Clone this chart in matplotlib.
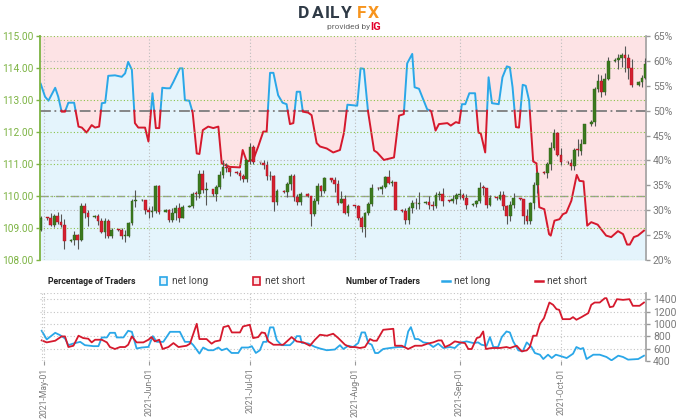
import matplotlib
matplotlib.use("Agg")
import matplotlib.pyplot as plt
import matplotlib.dates as mdates
from matplotlib.patches import Rectangle
from matplotlib.lines import Line2D
import numpy as np
import pandas as pd

plt.rcParams['font.family'] = ['Roboto', 'DejaVu Sans']

# ---- USD/JPY daily candles (Sundays included, Saturdays skipped) ----
first_open = 108.93
closes = [109.31,
          109.30, 109.08, 109.36, 109.19, 109.08, 108.58,
          108.62, 108.79, 108.62, 109.69, 109.48, 109.35,
          109.37, 109.21, 108.89, 109.23, 108.75, 108.95,
          108.93, 108.76, 108.76, 109.16, 109.84, 109.86,
          109.87, 109.56, 109.50, 109.52, 110.30, 109.51,
          109.55, 109.24, 109.48, 109.63, 109.31, 109.67,
          109.70, 110.07, 110.06, 110.70, 110.20, 110.22,
          110.05, 110.27, 110.65, 110.92, 110.88, 110.76,
          110.72, 110.62, 110.52, 111.11, 111.53, 111.05,
          111.03, 110.96, 110.62, 110.63, 109.81, 110.15,
          110.12, 110.36, 110.62, 109.97, 109.82, 110.07,
          110.00, 109.45, 109.85, 110.30, 110.15, 110.56,
          110.50, 110.38, 109.79, 109.91, 109.47, 109.70,
          109.68, 109.30, 109.04, 109.48, 109.76, 110.24,
          110.22, 110.28, 110.59, 110.41, 110.43, 109.57,
          109.53, 109.24, 109.61, 109.77, 109.75, 109.79,
          109.80, 109.71, 109.68, 110.04, 110.07, 109.84,
          109.83, 109.92, 110.03, 110.03, 109.93, 109.71,
          109.75, 109.84, 110.26, 110.25, 109.71, 109.94,
          109.92, 110.02, 109.68, 109.38, 109.71, 109.93,
          109.90, 109.39, 109.22, 109.78, 110.34, 110.73,
          110.72, 111.00, 111.49, 111.98, 111.29, 111.05,
          111.03, 110.93, 111.44, 111.42, 111.62, 112.24,
          112.30, 113.35, 113.59, 113.25, 113.67, 114.21,
          114.25, 114.32, 114.40, 114.30, 114.00, 113.46,
          113.55, 113.70, 114.13]
highs = [109.36,
         109.35, 109.47, 109.43, 109.51, 109.45, 109.28,
         108.66, 108.90, 108.82, 109.77, 109.79, 109.55,
         109.40, 109.44, 109.30, 109.32, 109.27, 109.00,
         108.97, 108.99, 108.95, 109.20, 109.91, 110.20,
         109.90, 109.88, 109.67, 109.70, 110.33, 110.33,
         109.58, 109.58, 109.61, 109.72, 109.79, 109.71,
         109.73, 110.14, 110.16, 110.82, 110.82, 110.44,
         110.10, 110.35, 110.79, 111.11, 111.04, 110.86,
         110.78, 110.80, 110.70, 111.12, 111.66, 111.58,
         111.06, 111.14, 111.08, 110.79, 110.65, 110.23,
         110.18, 110.44, 110.69, 110.70, 110.05, 110.13,
         110.08, 110.00, 109.95, 110.42, 110.35, 110.60,
         110.56, 110.59, 110.50, 110.15, 110.02, 109.76,
         109.72, 109.72, 109.38, 109.51, 109.80, 110.37,
         110.27, 110.35, 110.63, 110.80, 110.49, 110.45,
         109.58, 109.62, 109.68, 109.86, 109.94, 110.13,
         109.84, 110.00, 109.85, 110.12, 110.15, 110.25,
         109.87, 110.04, 110.10, 110.22, 110.10, 110.05,
         109.78, 109.89, 110.45, 110.33, 110.16, 110.04,
         109.96, 110.15, 110.16, 109.72, 109.84, 110.08,
         109.95, 109.90, 109.58, 109.82, 110.45, 110.79,
         110.77, 111.06, 111.68, 112.08, 112.00, 111.50,
         111.08, 111.15, 111.51, 111.79, 111.78, 112.24,
         112.36, 113.41, 113.80, 113.79, 113.84, 114.33,
         114.30, 114.45, 114.47, 114.69, 114.45, 114.27,
         113.60, 113.77, 114.30]
lows = [108.91,
        109.25, 109.05, 109.02, 109.11, 109.03, 108.34,
        108.55, 108.48, 108.34, 108.58, 109.32, 109.06,
        109.32, 109.08, 108.85, 108.70, 108.70, 108.68,
        108.90, 108.66, 108.56, 108.72, 109.09, 109.65,
        109.83, 109.45, 109.30, 109.34, 109.48, 109.43,
        109.50, 109.19, 109.20, 109.24, 109.18, 109.31,
        109.65, 109.64, 109.88, 109.95, 110.10, 109.72,
        110.00, 109.83, 110.22, 110.56, 110.75, 110.64,
        110.70, 110.50, 110.43, 110.45, 111.00, 110.99,
        111.00, 110.85, 110.50, 110.51, 109.53, 109.72,
        110.10, 109.98, 110.18, 109.85, 109.72, 109.72,
        109.97, 109.06, 109.36, 109.74, 110.00, 110.10,
        110.45, 110.12, 109.73, 109.78, 109.44, 109.37,
        109.64, 109.25, 108.88, 108.72, 109.41, 109.70,
        110.18, 110.07, 110.24, 110.36, 110.30, 109.55,
        109.50, 109.12, 109.11, 109.46, 109.60, 109.60,
        109.76, 109.60, 109.55, 109.62, 109.87, 109.70,
        109.80, 109.77, 109.74, 109.92, 109.88, 109.58,
        109.70, 109.65, 109.78, 110.04, 109.61, 109.69,
        109.89, 109.86, 109.55, 109.12, 109.23, 109.64,
        109.87, 109.11, 109.12, 109.12, 109.60, 110.10,
        110.68, 110.57, 110.82, 111.45, 111.25, 110.97,
        111.00, 110.82, 110.81, 111.25, 111.28, 111.65,
        112.20, 112.20, 113.24, 113.09, 113.17, 113.62,
        114.18, 113.97, 114.04, 113.87, 113.67, 113.41,
        113.45, 113.42, 113.67]

# ---- % of traders net long (days after 2021-05-01) ----
sent_day = [-1.0, 0.3, 1.3, 3.3, 4.2, 5.2, 6.2, 7.2, 8.9, 10.2,
            11.2, 12.6, 14.1, 15.1, 16.3, 17.1, 18.1, 19.0, 21.0, 23.0,
            24.0, 24.9, 26.0, 26.9, 27.9, 29.9, 30.9, 32.1, 33.1, 34.1,
            35.0, 36.3, 37.3, 38.3, 40.2, 41.0, 41.7, 43.0, 44.0, 45.2,
            46.0, 47.0, 48.6, 50.1, 51.6, 52.6, 55.0, 58.0, 58.8, 60.0,
            61.9, 63.4, 64.9, 65.9, 66.9, 67.9, 69.3, 70.6, 71.8, 72.8,
            73.8, 74.8, 75.8, 76.6, 78.2, 79.2, 80.7, 81.7, 83.7, 85.6,
            87.6, 88.8, 89.8, 92.7, 93.7, 94.7, 95.9, 97.7, 98.6, 100.6,
            103.6, 105.1, 106.5, 107.5, 109.0, 109.7, 111.0, 113.4, 114.6, 115.9,
            116.9, 119.4, 120.4, 121.9, 122.9, 123.7, 124.7, 125.9, 127.6, 128.6,
            129.3, 130.6, 131.6, 132.6, 134.6, 135.7, 137.0, 137.9, 138.7, 139.7,
            140.6, 141.7, 142.6, 143.6, 144.8, 145.8, 146.6, 148.1, 149.5, 150.0,
            151.1, 152.6, 153.6, 154.6, 156.1, 157.7, 158.5, 159.7, 160.8, 162.0,
            163.9, 164.9, 166.4, 167.9, 169.9, 171.4, 172.6, 173.4, 174.6, 175.8,
            177.6]
sent_pct = [55.4, 52.8, 52.0, 54.6, 52.8, 49.8, 49.8, 51.6, 51.6, 46.8,
            46.6, 45.6, 47.1, 46.6, 46.8, 51.5, 51.6, 57.0, 57.1, 56.8,
            57.5, 59.8, 58.2, 47.5, 46.6, 46.6, 43.8, 53.5, 46.5, 46.5,
            54.6, 54.5, 54.5, 55.8, 58.5, 58.5, 52.1, 52.0, 49.6, 41.4,
            41.3, 46.1, 46.8, 46.5, 46.8, 39.4, 38.7, 38.6, 42.1, 39.8,
            40.1, 42.8, 45.8, 45.8, 57.6, 57.6, 53.1, 51.6, 51.3, 47.3,
            47.5, 53.8, 53.8, 49.8, 49.6, 49.1, 43.5, 42.8, 42.4, 41.6,
            42.1, 45.6, 51.2, 51.0, 58.5, 58.4, 49.9, 42.0, 41.6, 40.1,
            40.6, 49.0, 49.3, 59.5, 61.4, 54.7, 54.4, 50.3, 49.9, 46.0,
            47.3, 47.5, 47.0, 47.7, 47.5, 51.3, 51.3, 53.5, 53.5, 45.6,
            45.4, 41.6, 56.7, 51.5, 51.3, 56.7, 58.9, 58.7, 54.7, 46.7,
            46.6, 55.2, 55.0, 52.0, 39.8, 39.4, 30.6, 30.2, 25.2, 24.9,
            27.9, 28.2, 29.2, 29.5, 31.9, 37.1, 35.9, 35.8, 26.9, 27.6,
            27.1, 26.2, 24.9, 24.6, 25.8, 25.2, 23.1, 23.1, 24.6, 24.9,
            25.9]

# ---- number of traders ----
long_day = [-0.7, 0.8, 3.3, 4.7, 6.2, 7.2, 8.7, 10.7, 12.1, 14.6,
            16.1, 17.1, 18.6, 19.5, 21.0, 21.5, 23.5, 24.9, 26.0, 27.4,
            28.9, 30.9, 32.2, 33.4, 35.3, 37.3, 40.2, 41.7, 43.2, 44.2,
            46.0, 47.1, 48.6, 50.1, 51.6, 52.6, 54.1, 55.5, 57.5, 58.5,
            60.5, 61.5, 62.7, 63.9, 64.9, 65.9, 66.9, 67.9, 68.9, 70.3,
            72.8, 73.8, 74.8, 75.8, 76.3, 78.2, 80.2, 81.7, 83.7, 86.1,
            87.6, 88.6, 90.1, 91.5, 93.0, 94.0, 95.0, 96.0, 97.0, 98.0,
            98.9, 100.4, 102.4, 104.9, 106.8, 107.8, 108.6, 109.8, 110.8, 112.3,
            113.7, 115.2, 116.7, 118.2, 120.2, 121.6, 122.6, 123.6, 125.1, 127.1,
            128.5, 129.5, 131.0, 132.0, 133.0, 134.4, 135.5, 136.9, 137.9, 138.9,
            140.4, 141.7, 142.9, 144.3, 145.3, 146.8, 147.8, 149.2, 150.3, 151.5,
            153.2, 154.7, 156.6, 157.6, 158.8, 159.6, 160.6, 162.6, 164.5, 166.5,
            168.0, 170.0, 171.4, 172.9, 175.9, 177.6]
long_cnt = [889, 749, 856, 819, 765, 656, 683, 710, 656, 640,
            640, 781, 781, 856, 856, 781, 781, 889, 872, 602,
            618, 628, 802, 710, 710, 872, 872, 710, 710, 656,
            520, 618, 574, 574, 618, 574, 602, 530, 530, 618,
            618, 640, 530, 574, 710, 710, 944, 944, 737, 656,
            656, 710, 802, 802, 693, 683, 628, 602, 574, 586,
            656, 594, 647, 626, 690, 862, 862, 690, 663, 529,
            529, 594, 610, 626, 626, 878, 948, 755, 755, 701,
            690, 626, 680, 610, 626, 610, 663, 701, 717, 690,
            701, 663, 647, 787, 626, 626, 787, 878, 862, 717,
            572, 556, 701, 626, 529, 502, 432, 502, 448, 502,
            475, 448, 518, 626, 594, 610, 432, 502, 502, 465,
            411, 486, 465, 422, 432, 486]
short_day = [-0.7, 0.8, 3.3, 5.2, 6.2, 7.2, 8.7, 10.2, 11.6, 13.1,
             14.1, 15.1, 17.1, 18.6, 19.5, 21.0, 22.5, 24.0, 24.9, 26.0,
             27.4, 29.4, 30.9, 31.8, 32.8, 34.1, 35.1, 36.8, 38.3, 39.8,
             42.2, 43.2, 45.2, 46.0, 48.1, 49.6, 50.6, 52.1, 53.1, 54.6,
             55.6, 58.0, 58.9, 60.9, 61.9, 63.4, 64.4, 65.4, 66.4, 67.9,
             70.8, 73.3, 74.8, 76.8, 78.7, 80.2, 81.7, 83.7, 85.6, 87.1,
             87.6, 89.1, 90.6, 92.1, 93.5, 95.0, 96.5, 97.5, 98.5, 100.4,
             103.4, 103.9, 105.9, 107.8, 109.8, 111.8, 113.5, 115.2, 116.7, 117.7,
             118.7, 120.2, 121.6, 123.1, 124.6, 125.6, 126.6, 128.1, 129.0, 130.0,
             130.8, 132.5, 134.9, 136.9, 137.9, 139.9, 141.4, 142.9, 143.8, 144.8,
             145.8, 146.8, 148.0, 149.6, 150.7, 151.7, 152.5, 153.5, 155.7, 156.6,
             157.6, 159.1, 161.1, 162.0, 163.0, 164.5, 166.0, 166.5, 167.5, 168.5,
             169.6, 171.4, 173.3, 174.3, 176.3, 177.6]
short_cnt = [733, 701, 728, 798, 798, 626, 647, 809, 771, 760,
             701, 744, 744, 701, 626, 594, 626, 626, 663, 798,
             701, 701, 744, 787, 717, 744, 594, 626, 690, 626,
             647, 680, 1002, 755, 755, 680, 717, 733, 948, 970,
             862, 862, 959, 986, 771, 787, 862, 852, 717, 663,
             663, 787, 717, 701, 647, 744, 825, 809, 841, 771,
             744, 663, 626, 626, 610, 626, 755, 728, 728, 905,
             921, 647, 647, 594, 647, 647, 680, 701, 733, 733,
             626, 663, 717, 701, 690, 594, 594, 771, 787, 878,
             594, 610, 610, 626, 610, 647, 556, 572, 626, 809,
             809, 1002, 1093, 1346, 1309, 1239, 1228, 1077, 1077, 1110,
             1067, 1110, 1174, 1309, 1346, 1346, 1416, 1416, 1271, 1282,
             1400, 1389, 1400, 1293, 1293, 1346]

price_ticks = [108, 109, 110, 111, 112, 113, 114, 115]
pct_ticks = [20, 25, 30, 35, 40, 45, 50, 55, 60, 65]
count_ticks = [400, 600, 800, 1000, 1200, 1400]

# colours
GREEN_TXT = '#7cb342'
GREY_TXT = '#7a7a7a'
BLUE = '#2aa7e8'
RED = '#d5192d'
PINK_BG = '#fde3e5'
BLUE_BG = '#e4f4fc'
CANDLE_UP = '#3b7a1e'
CANDLE_DN = '#d42030'

W, H = 680, 420
fig = plt.figure(figsize=(6.8, 4.2), dpi=100)
fig.patch.set_facecolor('white')


def fx(px):
    return px / W


def fy(py):
    return 1 - py / H


base = mdates.date2num(pd.Timestamp('2021-05-01'))
xlim = (base - 1.2, base + 178.2)

dates = pd.date_range('2021-04-30', '2021-10-26')
dates = dates[dates.dayofweek != 5]
cx = mdates.date2num(dates)
c = np.array(closes)
o = np.concatenate([[first_open], c[:-1]])
hi = np.array(highs)
lo = np.array(lows)

# ---------------- main panel ----------------
ax_pct = fig.add_axes([fx(40), fy(260), fx(606), (260 - 36) / H])
ax_px = ax_pct.twinx()

sx = base + np.array(sent_day)
sy = np.array(sent_pct)

# split line at the 50% level
X, Y = [sx[0]], [sy[0]]
for i in range(1, len(sx)):
    y0, y1 = sy[i - 1], sy[i]
    if (y0 - 50) * (y1 - 50) < 0:
        t = (50 - y0) / (y1 - y0)
        X.append(sx[i - 1] + t * (sx[i] - sx[i - 1]))
        Y.append(50)
    X.append(sx[i])
    Y.append(sy[i])
X, Y = np.array(X), np.array(Y)

fill_x = np.concatenate([[xlim[0]], X, [xlim[1]]])
fill_y = np.concatenate([[Y[0]], Y, [Y[-1]]])
ax_pct.fill_between(fill_x, 20, fill_y, color=BLUE_BG, lw=0)
ax_pct.fill_between(fill_x, fill_y, 65, color=PINK_BG, lw=0)

for lvl in [60, 40, 30]:
    ax_pct.axhline(lvl, color='#b5b5b5', ls=(0, (1, 2)), lw=0.8, zorder=1.5)
ax_pct.axhline(50, color='#7d7d7d', ls=(0, (6, 2, 1, 2)), lw=1.3, zorder=1.6)

ax_pct.plot(X, np.where(Y >= 50, Y, np.nan), color=BLUE, lw=1.4, zorder=3)
ax_pct.plot(X, np.where(Y <= 50, Y, np.nan), color=RED, lw=1.4, zorder=3)

ax_pct.set_ylim(20, 65)
ax_pct.set_xlim(xlim)
ax_pct.yaxis.tick_right()
ax_pct.set_yticks(pct_ticks)
ax_pct.set_yticklabels([f'{v}%' for v in pct_ticks])
ax_pct.tick_params(axis='y', colors='#999999', labelcolor=GREY_TXT,
                   labelsize=7.5, length=3, width=1, pad=2)
ax_pct.xaxis.set_major_locator(mdates.MonthLocator())
ax_pct.tick_params(axis='x', length=0, labelbottom=False)
ax_pct.grid(axis='x', color='#bdbdbd', ls=(0, (1, 2)), lw=0.8)
for s in ['top', 'bottom', 'left']:
    ax_pct.spines[s].set_visible(False)
ax_pct.spines['right'].set_color('#a0a0a0')
ax_pct.spines['right'].set_linewidth(1.2)

# price candles on the twin axis (drawn on top)
up = c >= o
ax_px.vlines(cx, lo, hi, color='#555555', lw=0.8, zorder=3)
body = np.where(np.abs(c - o) < 0.02, 0.02, c - o)
ax_px.bar(cx, body, bottom=o, width=0.8,
          color=np.where(up, CANDLE_UP, CANDLE_DN),
          edgecolor=np.where(up, '#2d5e16', '#a5121f'), lw=0.3, zorder=4)
ax_px.axhline(110, color='#9a9a9a', ls=(0, (6, 2, 1, 2)), lw=1.0, zorder=1)
ax_px.set_ylim(108, 115)
ax_px.set_xlim(xlim)
ax_px.yaxis.tick_left()
ax_px.set_yticks(price_ticks)
ax_px.set_yticklabels([f'{v:.2f}' for v in price_ticks])
ax_px.tick_params(axis='y', colors=GREEN_TXT, labelcolor=GREEN_TXT,
                  labelsize=7.3, length=3, width=1, pad=2)
ax_px.grid(axis='y', color='#8bc34a', ls=(0, (1, 2)), lw=0.8)
for s in ['top', 'bottom', 'right']:
    ax_px.spines[s].set_visible(False)
ax_px.spines['left'].set_color(GREEN_TXT)
ax_px.spines['left'].set_linewidth(1.3)

# ---------------- bottom panel ----------------
ax_n = fig.add_axes([fx(40), fy(361), fx(606), (361 - 293) / H])
ax_n.plot(base + np.array(long_day), long_cnt, color=BLUE, lw=1.3)
ax_n.plot(base + np.array(short_day), short_cnt, color=RED, lw=1.3)
ax_n.set_ylim(400, 1500)
ax_n.set_xlim(xlim)
ax_n.yaxis.tick_right()
ax_n.set_yticks(count_ticks)
ax_n.tick_params(axis='y', colors='#999999', labelcolor=GREY_TXT,
                 labelsize=7.5, length=3, width=1, pad=2)
ax_n.grid(axis='y', color='#c4c4c4', ls=(0, (1, 2)), lw=0.8)
ax_n.axhline(1500, color='#c4c4c4', ls=(0, (1, 2)), lw=0.8)
ax_n.axvline(base - 0.6, color='#c4c4c4', ls=(0, (1, 2)), lw=0.8)
ax_n.xaxis.set_major_locator(mdates.MonthLocator())
ax_n.xaxis.set_major_formatter(mdates.DateFormatter('%Y-%b-%d'))
ax_n.grid(axis='x', color='#c4c4c4', ls=(0, (1, 2)), lw=0.8)
ax_n.tick_params(axis='x', colors='#999999', labelcolor=GREY_TXT,
                 labelsize=6.2, length=3, rotation=90, pad=2)
for s in ['top', 'bottom', 'left']:
    ax_n.spines[s].set_visible(False)
ax_n.spines['right'].set_color('#a0a0a0')
ax_n.spines['right'].set_linewidth(1.2)

# ---------------- legend row ----------------
ly = 281
fig.text(fx(48), fy(ly), 'Percentage of Traders', fontsize=6.3, fontweight='bold',
         color='#222222', va='center')
fig.add_artist(Rectangle((fx(160), fy(ly + 4)), fx(7), 8 / H, transform=fig.transFigure,
                         facecolor=BLUE_BG, edgecolor=BLUE, lw=1.2))
fig.text(fx(172), fy(ly), 'net long', fontsize=7.2, color='#444444', va='center')
fig.add_artist(Rectangle((fx(253), fy(ly + 4)), fx(7), 8 / H, transform=fig.transFigure,
                         facecolor=PINK_BG, edgecolor=RED, lw=1.2))
fig.text(fx(265), fy(ly), 'net short', fontsize=7.2, color='#444444', va='center')
fig.text(fx(346), fy(ly), 'Number of Traders', fontsize=6.3, fontweight='bold',
         color='#222222', va='center')
fig.add_artist(Line2D([fx(442), fx(450)], [fy(ly), fy(ly)], transform=fig.transFigure,
                      color=BLUE, lw=1.8))
fig.text(fx(454), fy(ly), 'net long', fontsize=7.2, color='#444444', va='center')
fig.add_artist(Line2D([fx(535), fx(543)], [fy(ly), fy(ly)], transform=fig.transFigure,
                      color=RED, lw=1.8))
fig.text(fx(547), fy(ly), 'net short', fontsize=7.2, color='#444444', va='center')

# ---------------- logo ----------------
logo_letters = ['D', 'A', 'I', 'L', 'Y', 'F', 'X']
logo_px = [298, 312, 325, 330, 341, 357, 368]
for ch, px in zip(logo_letters, logo_px):
    fig.text(fx(px), fy(13), ch, fontsize=12.5, fontweight='bold',
             color='#f7941d' if ch in 'FX' else '#2f3a46', va='center')
fig.text(fx(327), fy(27), 'provided by', fontsize=6, color='#666666', va='center')
fig.text(fx(370), fy(27), 'IG', fontsize=8, fontweight='bold', color='#e4002b', va='center')

fig.savefig('out.png', dpi=100, facecolor='white')
